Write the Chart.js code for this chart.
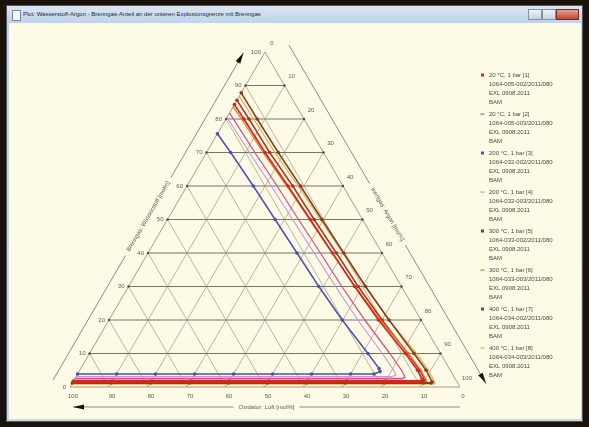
<!DOCTYPE html>
<html>
<head>
<meta charset="utf-8">
<script src="https://cdn.jsdelivr.net/npm/chart.js@4/dist/chart.umd.min.js"></script>
<style>
  html, body { margin: 0; padding: 0; width: 589px; height: 427px; overflow: hidden; background: #1a120a; }
  #win { position: absolute; left: 6px; top: 5px; width: 577px; height: 417px; box-sizing: border-box;
         border: 1px solid #4f5a66; background: linear-gradient(#dbe6f3, #c2d4ea 16px, #c9d7e6); }
  #icon { position: absolute; left: 5px; top: 4px; width: 7px; height: 9px; border: 1px solid #7a8696; background: #f4f6f8; }
  #title { position: absolute; left: 16px; top: 5px; font: 6px "Liberation Sans", sans-serif; color: #1d2836; white-space: nowrap; }
  .btn { position: absolute; top: 3px; height: 11px; border: 1px solid #8593a6; box-sizing: border-box;
         background: linear-gradient(#eef3f9, #c6d3e3); }
  #bmin { left: 521px; width: 14px; }
  #bmax { left: 535px; width: 14px; }
  #bclose { left: 549px; width: 23px; background: linear-gradient(#e8a090, #c4452f); border-color: #7a2a1c; }
  #client { position: absolute; left: 9px; top: 23px; width: 572px; height: 396px; background: #fdfae5; }
  #chart { position: absolute; left: 0; top: 0; }
</style>
</head>
<body>
<div id="win">
  <div id="icon"></div>
  <div id="title">Plot: Wasserstoff-Argon - Brenngas-Anteil an der unteren Explosionsgrenze mit Brenngas</div>
  <div class="btn" id="bmin"></div><div class="btn" id="bmax"></div><div class="btn" id="bclose"></div>
</div>
<div id="client"></div>
<canvas id="chart" width="589" height="427"></canvas>
<script>
// Measured explosion-range boundaries, hydrogen (H2) and argon (Ar) in mol%; air = 100 - H2 - Ar.
// Each run: upper branch from the air side down to the nose, then the lower limit back to Ar = 0.
const h20a  = [84.3, 80, 70, 60, 50, 40, 30, 20, 10, 5, 2.2, 1.6, 1.6, 1.6, 1.6, 1.6, 1.6, 1.6, 1.6, 1.6, 1.6];
const ar20a = [0, 4.6, 15.0, 25.9, 36.6, 47.3, 58.0, 69.1, 81.0, 86.6, 89.2, 89.0, 80, 70, 60, 50, 40, 30, 20, 10, 0];

const h20b  = [81.8, 70, 60, 50, 40, 30, 20, 10, 5, 3.0, 2.5, 2.5, 2.5, 2.5, 2.5, 2.5, 2.5, 2.5, 2.5, 2.5];
const ar20b = [0, 12.4, 23.1, 33.6, 44.2, 54.7, 65.6, 77.0, 82.5, 84.4, 84.0, 80, 70, 60, 50, 40, 30, 20, 10, 0];

const h200a  = [75.6, 70, 60, 50, 40, 30, 20, 10, 5.5, 4.6, 3.9, 3.9, 3.9, 3.9, 3.9, 3.9, 3.9, 3.9, 3.9];
const ar200a = [0, 6.2, 17.0, 27.6, 38.2, 48.8, 59.8, 71.4, 76.5, 77.2, 76.0, 70, 60, 50, 40, 30, 20, 10, 0];

const h200b  = [80.5, 70, 60, 50, 40, 30, 20, 10, 5, 3.6, 3.1, 3.1, 3.1, 3.1, 3.1, 3.1, 3.1, 3.1, 3.1];
const ar200b = [0, 11.0, 21.6, 32.1, 42.6, 53.1, 63.8, 75.1, 80.5, 81.8, 81.0, 70, 60, 50, 40, 30, 20, 10, 0];

const h300a  = [87.8, 80, 70, 60, 50, 40, 30, 20, 10, 5, 1.5, 1.2, 1.2, 1.2, 1.2, 1.2, 1.2, 1.2, 1.2, 1.2, 1.2, 1.2];
const ar300a = [0, 8.0, 18.4, 29.1, 39.6, 50.2, 60.8, 71.8, 83.2, 88.8, 92.1, 92.0, 90, 80, 70, 60, 50, 40, 30, 20, 10, 0];

const h300b  = [83.6, 80, 70, 60, 50, 40, 30, 20, 10, 5, 1.6, 1.3, 1.3, 1.3, 1.3, 1.3, 1.3, 1.3, 1.3, 1.3, 1.3];
const ar300b = [0, 4.0, 14.5, 25.6, 36.4, 47.2, 58.1, 69.5, 81.8, 87.5, 90.7, 90.5, 80, 70, 60, 50, 40, 30, 20, 10, 0];

const h400a  = [85.6, 80, 70, 60, 50, 40, 30, 20, 10, 5, 2.0, 1.8, 1.8, 1.8, 1.8, 1.8, 1.8, 1.8, 1.8, 1.8, 1.8];
const ar400a = [0, 5.9, 16.2, 27.1, 37.6, 48.3, 58.9, 70.0, 81.6, 87.2, 90.0, 89.5, 80, 70, 60, 50, 40, 30, 20, 10, 0];

const h400b  = [86.8, 80, 70, 60, 50, 40, 30, 20, 10, 5, 1.2, 0.9, 0.9, 0.9, 0.9, 0.9, 0.9, 0.9, 0.9, 0.9, 0.9, 0.9];
const ar400b = [0, 7.1, 17.5, 28.5, 39.2, 49.9, 60.6, 71.8, 83.8, 89.4, 93.0, 92.8, 90, 80, 70, 60, 50, 40, 30, 20, 10, 0];

const seriesNames = ["20 °C, 1 bar [1]", "20 °C, 1 bar [2]", "200 °C, 1 bar [3]", "200 °C, 1 bar [4]",
                     "300 °C, 1 bar [5]", "300 °C, 1 bar [6]", "400 °C, 1 bar [7]", "400 °C, 1 bar [8]"];
const seriesIds = ["1064-005-002/2011/080", "1064-005-003/2011/080", "1064-032-002/2011/080", "1064-032-003/2011/080",
                   "1064-033-002/2011/080", "1064-033-003/2011/080", "1064-034-002/2011/080", "1064-034-003/2011/080"];
const seriesRefs = ["EXL 0908.2011", "EXL 0908.2011", "EXL 0908.2011", "EXL 0908.2011",
                    "EXL 0908.2011", "EXL 0908.2011", "EXL 0908.2011", "EXL 0908.2011"];
const seriesLab = "BAM";

const gridSteps = [10, 20, 30, 40, 50, 60, 70, 80, 90];
const tickValues = [0, 10, 20, 30, 40, 50, 60, 70, 80, 90, 100];
const titleH2 = "Brenngas: Wasserstoff [mol%]";
const titleAr = "Inertgas: Argon [mol%]";
const titleAir = "Oxidator: Luft [mol%]";

const runs = [
  { h: h20a,  ar: ar20a,  color: "#d3281c", width: 1.7, lower: 3.0, marker: true  },
  { h: h20b,  ar: ar20b,  color: "#d9528c", width: 1.3, lower: 1.6, marker: false },
  { h: h200a, ar: ar200a, color: "#4a50b0", width: 1.5, lower: 1.6, marker: true  },
  { h: h200b, ar: ar200b, color: "#c894d6", width: 1.1, lower: 1.3, marker: false },
  { h: h300a, ar: ar300a, color: "#8a3b1c", width: 1.5, lower: 2.0, marker: true  },
  { h: h300b, ar: ar300b, color: "#e5792e", width: 1.3, lower: 1.6, marker: false },
  { h: h400a, ar: ar400a, color: "#b2301e", width: 1.5, lower: 2.0, marker: true  },
  { h: h400b, ar: ar400b, color: "#d9b25c", width: 1.3, lower: 1.6, marker: false }
];

// Ternary -> cartesian: x = Ar + H2/2, y = H2 (air vertex bottom left, argon bottom right, hydrogen on top)
const toXY = (h, ar) => h.map((v, i) => ({ x: ar[i] + v / 2, y: v }));

const datasets = runs.map((r, i) => ({
  label: seriesNames[i],
  data: toXY(r.h, r.ar),
  showLine: true,
  borderColor: r.color,
  backgroundColor: r.color,
  borderWidth: r.width,
  // the lower-limit run along the base is drawn a little heavier
  segment: { borderWidth: ctx => (ctx.p0.parsed.y === ctx.p1.parsed.y ? r.lower : r.width) },
  pointRadius: r.marker ? 1.8 : 0,
  pointBackgroundColor: r.color,
  pointBorderWidth: 0,
  tension: 0,
  clip: false
}));

const FONT = '"Liberation Sans", Arial, sans-serif';

function arrowHead(ctx, tip, dir, len, half) {
  const nx = -dir.y, ny = dir.x;
  ctx.beginPath();
  ctx.moveTo(tip.x, tip.y);
  ctx.lineTo(tip.x - dir.x * len + nx * half, tip.y - dir.y * len + ny * half);
  ctx.lineTo(tip.x - dir.x * len - nx * half, tip.y - dir.y * len - ny * half);
  ctx.closePath();
  ctx.fill();
}

// Axis line parallel to an edge, interrupted by its title, ending in an arrow
function titledAxis(ctx, from, to, text, angle) {
  const dx = to.x - from.x, dy = to.y - from.y;
  const len = Math.hypot(dx, dy);
  const u = { x: dx / len, y: dy / len };
  const mid = { x: from.x + dx / 2, y: from.y + dy / 2 };
  ctx.font = '6px ' + FONT;
  const gap = ctx.measureText(text).width / 2 + 5;
  ctx.strokeStyle = '#8c8c80';
  ctx.lineWidth = 1;
  ctx.beginPath();
  ctx.moveTo(from.x, from.y);
  ctx.lineTo(mid.x - u.x * gap, mid.y - u.y * gap);
  ctx.moveTo(mid.x + u.x * gap, mid.y + u.y * gap);
  ctx.lineTo(to.x, to.y);
  ctx.stroke();
  ctx.fillStyle = '#111';
  arrowHead(ctx, to, u, 11, 2.6);
  ctx.save();
  ctx.translate(mid.x, mid.y);
  ctx.rotate(angle);
  ctx.fillStyle = '#5a5a55';
  ctx.textAlign = 'center';
  ctx.textBaseline = 'middle';
  ctx.fillText(text, 0, 0);
  ctx.restore();
}

const ternaryFrame = {
  id: 'ternaryFrame',
  beforeDatasetsDraw(chart) {
    const { ctx } = chart;
    const sx = chart.scales.x, sy = chart.scales.y;
    const P = (h, ar) => ({ x: sx.getPixelForValue(ar + h / 2), y: sy.getPixelForValue(h) });
    const seg = (a, b) => { ctx.beginPath(); ctx.moveTo(a.x, a.y); ctx.lineTo(b.x, b.y); ctx.stroke(); };
    ctx.save();
    ctx.lineWidth = 1;
    // constant air and constant argon grid lines
    ctx.strokeStyle = '#b6b6a0';
    gridSteps.forEach(v => { seg(P(0, 100 - v), P(100 - v, 0)); seg(P(0, v), P(100 - v, v)); });
    // constant hydrogen grid lines
    ctx.strokeStyle = '#74746a';
    gridSteps.forEach(v => seg(P(v, 0), P(v, 100 - v)));
    // outline
    const BL = P(0, 0), AP = P(100, 0), BR = P(0, 100);
    ctx.strokeStyle = '#a0a08e';
    ctx.beginPath(); ctx.moveTo(BL.x, BL.y); ctx.lineTo(AP.x, AP.y); ctx.lineTo(BR.x, BR.y); ctx.closePath(); ctx.stroke();
    // edge dots
    ctx.fillStyle = '#4e4e46';
    gridSteps.forEach(v => {
      [P(v, 0), P(v, 100 - v)].forEach(p => { ctx.beginPath(); ctx.arc(p.x, p.y, 1.2, 0, Math.PI * 2); ctx.fill(); });
    });
    // tick labels
    ctx.font = '6px ' + FONT;
    ctx.fillStyle = '#5c5c56';
    ctx.textBaseline = 'middle';
    tickValues.forEach(v => {
      const b = P(0, 100 - v);            // air = v on the base
      ctx.textAlign = 'center';
      ctx.fillText(String(v), b.x + 3, b.y + 9);
      const l = P(v, 0);                  // hydrogen = v on the left edge
      ctx.textAlign = 'right';
      ctx.fillText(String(v), l.x - 4, l.y);
      const r = P(100 - v, v);            // argon = v on the right edge
      ctx.textAlign = 'center';
      ctx.fillText(String(v), r.x + 7, r.y - 9);
    });
    // axis titles with arrows
    const e1 = Math.hypot(AP.x - BL.x, AP.y - BL.y);
    const uL = { x: (AP.x - BL.x) / e1, y: (AP.y - BL.y) / e1 };
    titledAxis(ctx, { x: BL.x - 21 + uL.x * 8, y: BL.y + uL.y * 8 }, { x: AP.x - 21 - uL.x * 1, y: AP.y - uL.y * 1 },
               titleH2, Math.atan2(AP.y - BL.y, AP.x - BL.x));
    const e2 = Math.hypot(BR.x - AP.x, BR.y - AP.y);
    const uR = { x: (BR.x - AP.x) / e2, y: (BR.y - AP.y) / e2 };
    titledAxis(ctx, { x: AP.x + 28 - uR.x * 8, y: AP.y - uR.y * 8 }, { x: BR.x + 28 - uR.x * 4, y: BR.y - uR.y * 4 },
               titleAr, Math.atan2(BR.y - AP.y, BR.x - AP.x));
    titledAxis(ctx, { x: BR.x, y: BL.y + 20 }, { x: BL.x + 3, y: BL.y + 20 }, titleAir, 0);
    ctx.restore();
  },
  afterDraw(chart) {
    const { ctx } = chart;
    ctx.save();
    ctx.font = '6px ' + FONT;
    ctx.textAlign = 'left';
    ctx.textBaseline = 'middle';
    runs.forEach((r, i) => {
      const y0 = 75 + i * 39;
      ctx.fillStyle = r.color;
      if (r.marker) {
        ctx.fillRect(481, y0 - 1.5, 3, 3);
      } else {
        ctx.fillRect(480.5, y0 - 0.5, 4, 1.2);
      }
      ctx.fillStyle = '#4a4a46';
      ctx.fillText(seriesNames[i], 489, y0);
      ctx.fillText(seriesIds[i], 489, y0 + 9);
      ctx.fillText(seriesRefs[i], 489, y0 + 18);
      ctx.fillText(seriesLab, 489, y0 + 27);
    });
    ctx.restore();
  }
};

new Chart(document.getElementById('chart'), {
  type: 'scatter',
  data: { datasets },
  options: {
    responsive: false,
    animation: false,
    layout: { padding: { left: 70, right: 129, top: 52, bottom: 40 } },
    plugins: { legend: { display: false }, tooltip: { enabled: false } },
    scales: {
      x: { type: 'linear', min: 0, max: 100, display: false },
      y: { type: 'linear', min: 0, max: 100, display: false }
    }
  },
  plugins: [ternaryFrame]
});
</script>
</body>
</html>
